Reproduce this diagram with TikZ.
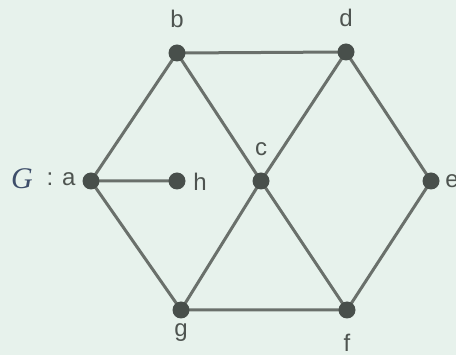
\documentclass[tikz,border=0pt]{standalone}
\usepackage{fontspec}
\setmainfont{Liberation Sans}
\newfontfamily\gfont{Liberation Serif}
\definecolor{bg}{HTML}{E7F2EC}
\definecolor{edgec}{HTML}{6A706B}
\definecolor{vert}{HTML}{484F4B}
\definecolor{txt}{HTML}{4E5450}
\definecolor{gcol}{HTML}{3E4E6A}
\begin{document}
\begin{tikzpicture}[x=1pt,y=-1pt,
  vtx/.style={circle,fill=vert,inner sep=0pt,minimum size=17pt},
  edg/.style={draw=edgec,line width=3pt},
  lbl/.style={text=txt,font=\fontsize{24}{24}\selectfont,inner sep=0pt}]
\fill[bg] (0,0) rectangle (456,355);
\useasboundingbox (0,0) rectangle (456,355);
\coordinate (A) at (91,181);
\coordinate (H) at (177,181);
\coordinate (B) at (177,53);
\coordinate (D) at (346,52);
\coordinate (C) at (261,181);
\coordinate (E) at (431,181);
\coordinate (G) at (181,310);
\coordinate (F) at (347,310);
\draw[edg] (A) -- (B) (A) -- (H) (A) -- (G) (B) -- (D) (B) -- (C) (D) -- (C)
  (D) -- (E) (C) -- (G) (C) -- (F) (E) -- (F) (G) -- (F);
\foreach \n in {A,H,B,D,C,E,G,F} \node[vtx] (v\n) at (\n) {};
\node[lbl] (la) at (61,179) {: a};
\node[inner sep=0pt,text=gcol] (lG) at (22,179) {\gfont\itshape\fontsize{30}{30}\selectfont G};
\node[lbl] (lh) at (200,182) {h};
\node[lbl] (lb) at (177,19) {b};
\node[lbl] (ld) at (346,18) {d};
\node[lbl] (lc) at (261,149) {c};
\node[lbl] (le) at (452,181) {e};
\node[lbl] (lg) at (181,333) {g};
\node[lbl] (lf) at (347,343) {f};
\end{tikzpicture}
\end{document}
